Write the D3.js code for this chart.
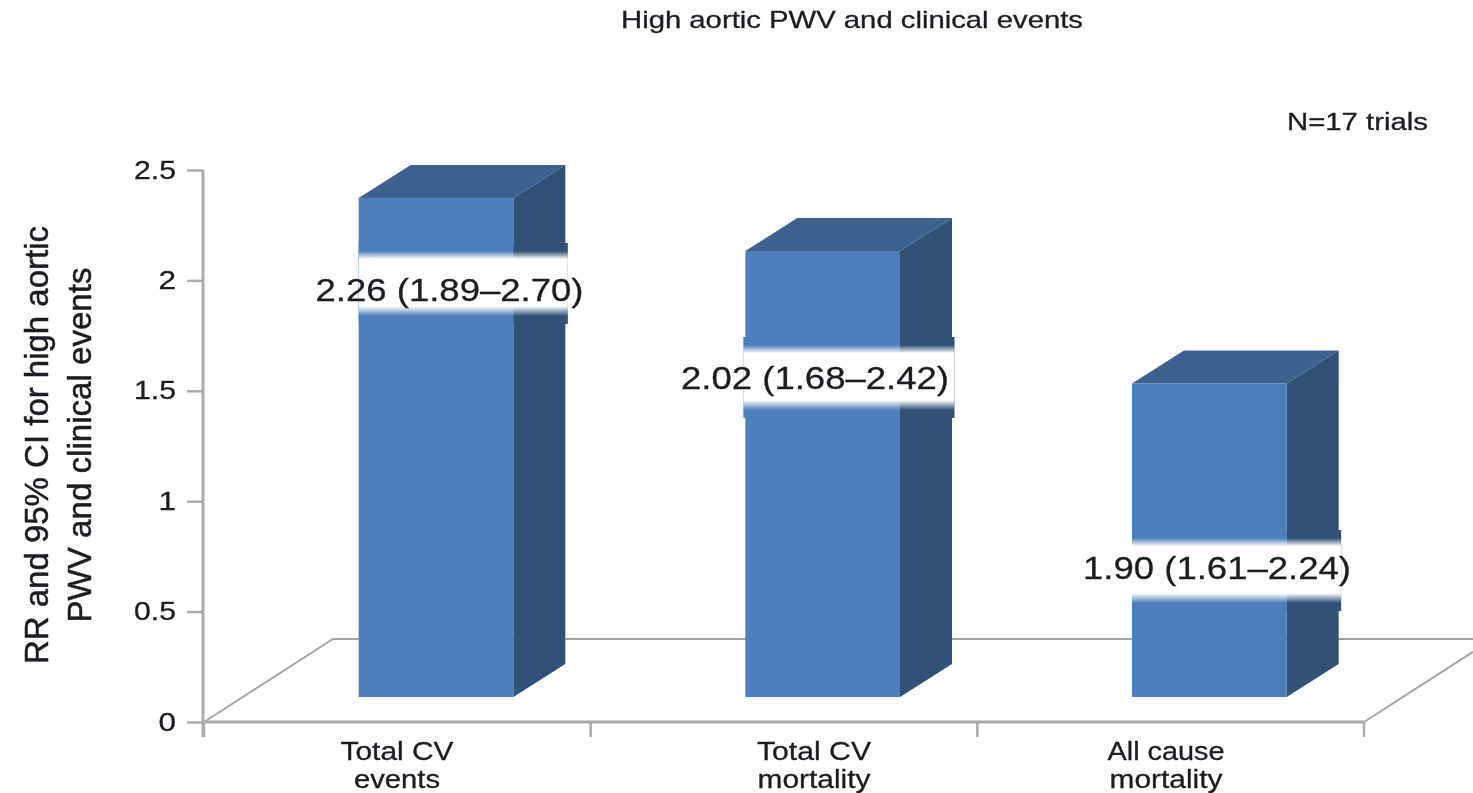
<!DOCTYPE html>
<html><head><meta charset="utf-8">
<script src="https://cdn.jsdelivr.net/npm/d3@7/dist/d3.min.js"></script>
<style>html,body{margin:0;padding:0;background:#fff}svg{display:block}text{font-family:"Liberation Sans",Arial,sans-serif;fill:#1c1c22;stroke:#1c1c22;stroke-width:0.3px}</style>
</head><body><div id="chart"></div>
<script>
const categories = ["Total CV events", "Total CV mortality", "All cause mortality"];
const categoryLines = [["Total CV","events"],["Total CV","mortality"],["All cause","mortality"]];
const barHeights = [2.26, 2.02, 1.42];
const valueLabels = ["2.26 (1.89–2.70)", "2.02 (1.68–2.42)", "1.90 (1.61–2.24)"];
const yTicks = [0, 0.5, 1, 1.5, 2, 2.5];
const yTitle = ["RR and 95% CI for high aortic", "PWV and clinical events"];
const chartTitle = "High aortic PWV and clinical events";
const note = "N=17 trials";

// layout
const W=1473,H=793, x0=204,x1=1364,y0=722,yTop=170;
const depthX=52, depthY=33, floorX=129, floorY=83, baseLift=25;
const labelCx=[449.5,815,1217], labelCy=[289,377.5,567], bandTop=[243,337,530], bandH=81, bandOver=2.5, bandOverLeft=[0,2,0];
const catCx=[397,814,1166];
const axisCol="#ababab", floorCol="#a3a3a3";
const front="#4e7fbc", topc="#3d618e", side="#315177";

const svg=d3.select("#chart").append("svg").attr("width",W).attr("height",H);
const defs=svg.append("defs");
defs.append("filter").attr("id","soft").attr("x","-2%").attr("y","-2%").attr("width","104%").attr("height","104%")
  .append("feGaussianBlur").attr("stdDeviation",0.6);
const g0=defs.append("linearGradient").attr("id","band").attr("x1",0).attr("x2",0).attr("y1",0).attr("y2",1);
[[0,0],[0.1,0],[0.2,1],[0.78,1],[0.9,0],[1,0]].forEach(s=>g0.append("stop").attr("offset",s[0]).attr("stop-color","#fff").attr("stop-opacity",s[1]));

const root=svg.append("g").attr("filter","url(#soft)");
const y=d3.scaleLinear().domain([0,2.5]).range([y0,yTop]);
const x=d3.scaleBand().domain(categories).range([x0,x1]).paddingInner(0);
const barW=x.bandwidth()*0.4, barOff=x.bandwidth()*0.4;

function fit(sel,len){return sel.attr("textLength",len).attr("lengthAdjust","spacingAndGlyphs");}

// floor
const floorLine=d3.line();
root.append("path").attr("fill","none").attr("stroke",floorCol).attr("stroke-width",2)
  .attr("d",floorLine([[x0,y0],[x0+floorX,y0-floorY],[W,y0-floorY]]));
root.append("path").attr("fill","none").attr("stroke",floorCol).attr("stroke-width",2)
  .attr("d",floorLine([[x1,y0],[W,y0-(W-x1)*floorY/floorX]]));

// axes
const axL=root.append("g").attr("transform",`translate(${x0-1},0)`)
  .call(d3.axisLeft(y).tickValues(yTicks).tickFormat(d3.format("~g")).tickSize(16).tickPadding(11));
axL.select(".domain").attr("stroke",axisCol).attr("stroke-width",3).attr("d",`M0,${yTop}V${y0+15}`);
axL.selectAll(".tick line").attr("stroke",axisCol).attr("stroke-width",2.5);
axL.selectAll(".tick text").attr("font-size",25).style("font-family",'"Liberation Sans"')
  .each(function(d){fit(d3.select(this),d%1?42:17.5);});

const tickXs=[...categories.map(c=>x(c)),x1];
root.append("path").attr("stroke",axisCol).attr("stroke-width",3).attr("d",`M${x0},${y0}H${x1}`);
root.selectAll(".xt").data(tickXs).join("line").attr("class","xt")
  .attr("x1",d=>d).attr("x2",d=>d).attr("y1",y0).attr("y2",y0+15).attr("stroke",axisCol).attr("stroke-width",2.5);

// bars
const bars=root.selectAll(".bar").data(categories).join("g").attr("class","bar");
const bx=c=>x(c)+barOff, byTop=i=>y(barHeights[i])-baseLift, by0=y(0)-baseLift;
bars.append("path").attr("fill",topc).attr("d",(c,i)=>floorLine([[bx(c),byTop(i)],[bx(c)+depthX,byTop(i)-depthY],[bx(c)+barW+depthX,byTop(i)-depthY],[bx(c)+barW,byTop(i)]])+"Z");
bars.append("path").attr("fill",side).attr("d",(c,i)=>floorLine([[bx(c)+barW,byTop(i)],[bx(c)+barW+depthX,byTop(i)-depthY],[bx(c)+barW+depthX,by0-depthY],[bx(c)+barW,by0]])+"Z");
bars.append("rect").attr("fill",front).attr("x",c=>bx(c)).attr("width",barW).attr("y",(c,i)=>byTop(i)).attr("height",(c,i)=>by0-byTop(i));

// label bands
bars.append("rect").attr("fill",side).attr("x",c=>bx(c)+barW).attr("width",depthX+bandOver).attr("y",(c,i)=>bandTop[i]).attr("height",bandH);
bars.append("rect").attr("fill",front).attr("x",(c,i)=>bx(c)-bandOverLeft[i]).attr("width",(c,i)=>barW+bandOverLeft[i]).attr("y",(c,i)=>bandTop[i]).attr("height",bandH);
bars.append("rect").attr("fill","url(#band)").attr("x",(c,i)=>bx(c)-bandOverLeft[i]).attr("width",(c,i)=>barW+depthX+bandOver+bandOverLeft[i]).attr("y",(c,i)=>bandTop[i]).attr("height",bandH);
bars.append("text").attr("text-anchor","middle").attr("font-size",32).attr("x",(c,i)=>labelCx[i]).attr("y",(c,i)=>labelCy[i]+11.5)
  .text((c,i)=>valueLabels[i]).each(function(){fit(d3.select(this),268);});

// category labels
const catW=[[113,86],[114,113],[117,113]];
categoryLines.forEach((lines,i)=>{
  lines.forEach((t,j)=>{
    const s=root.append("text").attr("text-anchor","middle").attr("font-size",25).attr("x",catCx[i]).attr("y",760+j*27.5).text(t);
    fit(s,catW[i][j]);
  });
});

// titles
fit(root.append("text").attr("x",852).attr("y",28).attr("text-anchor","middle").attr("font-size",24).text(chartTitle),462);
fit(root.append("text").attr("x",1357.5).attr("y",130).attr("text-anchor","middle").attr("font-size",23).text(note),141);
const ttl=[[48,438],[91,355]];
yTitle.forEach((t,i)=>{
  const s=root.append("text").attr("text-anchor","middle").attr("font-size",33).style("stroke-width","0.5px")
    .attr("transform",`translate(${ttl[i][0]},445) rotate(-90)`).text(t);
  fit(s,ttl[i][1]);
});
</script></body></html>
